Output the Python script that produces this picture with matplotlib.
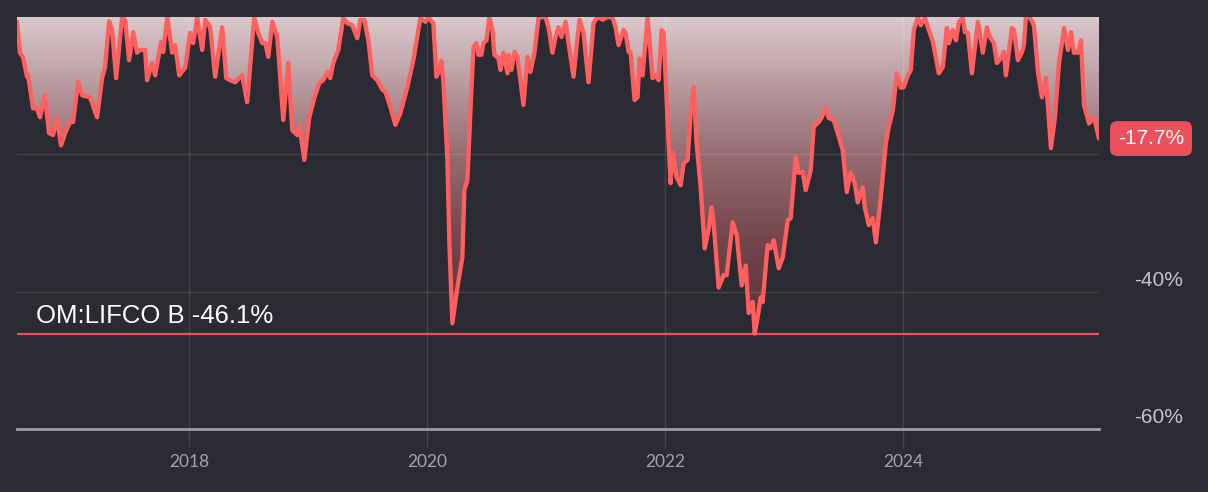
import matplotlib
matplotlib.use('Agg')
import matplotlib.pyplot as plt
import numpy as np

# drawdown of OM:LIFCO B (decimal years, percent)
years = [
    2016.553, 2016.578, 2016.603, 2016.637, 2016.646, 2016.688, 2016.721, 2016.746, 2016.788, 2016.822,
    2016.856, 2016.889, 2016.923, 2016.957, 2016.999, 2017.024, 2017.066, 2017.100, 2017.167, 2017.226,
    2017.268, 2017.293, 2017.327, 2017.352, 2017.386, 2017.436, 2017.461, 2017.495, 2017.529, 2017.562,
    2017.587, 2017.629, 2017.646, 2017.688, 2017.714, 2017.764, 2017.781, 2017.815, 2017.857, 2017.882,
    2017.916, 2017.966, 2018.008, 2018.033, 2018.067, 2018.109, 2018.134, 2018.176, 2018.218, 2018.277,
    2018.311, 2018.344, 2018.386, 2018.445, 2018.487, 2018.546, 2018.580, 2018.613, 2018.639, 2018.664,
    2018.698, 2018.740, 2018.790, 2018.832, 2018.866, 2018.908, 2018.925, 2018.967, 2019.009, 2019.051,
    2019.093, 2019.126, 2019.160, 2019.185, 2019.210, 2019.252, 2019.295, 2019.328, 2019.370, 2019.412,
    2019.437, 2019.471, 2019.505, 2019.538, 2019.580, 2019.623, 2019.648, 2019.690, 2019.732, 2019.774,
    2019.833, 2019.883, 2019.942, 2019.984, 2020.009, 2020.051, 2020.077, 2020.094, 2020.119, 2020.136,
    2020.169, 2020.186, 2020.211, 2020.253, 2020.295, 2020.312, 2020.337, 2020.363, 2020.388, 2020.413,
    2020.430, 2020.455, 2020.472, 2020.497, 2020.522, 2020.548, 2020.564, 2020.598, 2020.615, 2020.640,
    2020.674, 2020.682, 2020.707, 2020.733, 2020.758, 2020.808, 2020.842, 2020.867, 2020.901, 2020.935,
    2020.993, 2021.019, 2021.052, 2021.078, 2021.103, 2021.128, 2021.162, 2021.187, 2021.229, 2021.254,
    2021.279, 2021.313, 2021.355, 2021.397, 2021.431, 2021.473, 2021.515, 2021.557, 2021.582, 2021.607,
    2021.649, 2021.666, 2021.692, 2021.708, 2021.742, 2021.767, 2021.784, 2021.809, 2021.851, 2021.893,
    2021.918, 2021.944, 2021.969, 2021.986, 2022.020, 2022.045, 2022.062, 2022.095, 2022.129, 2022.154,
    2022.188, 2022.213, 2022.238, 2022.263, 2022.297, 2022.331, 2022.364, 2022.389, 2022.406, 2022.448,
    2022.490, 2022.516, 2022.566, 2022.600, 2022.642, 2022.676, 2022.701, 2022.734, 2022.751, 2022.776,
    2022.802, 2022.818, 2022.860, 2022.886, 2022.911, 2022.953, 2022.987, 2023.029, 2023.054, 2023.096,
    2023.121, 2023.155, 2023.180, 2023.222, 2023.247, 2023.289, 2023.315, 2023.348, 2023.373, 2023.415,
    2023.449, 2023.491, 2023.525, 2023.558, 2023.592, 2023.617, 2023.659, 2023.676, 2023.710, 2023.743,
    2023.769, 2023.811, 2023.853, 2023.878, 2023.912, 2023.945, 2023.979, 2024.004, 2024.038, 2024.063,
    2024.088, 2024.122, 2024.147, 2024.181, 2024.214, 2024.248, 2024.298, 2024.332, 2024.366, 2024.383,
    2024.416, 2024.442, 2024.467, 2024.500, 2024.517, 2024.542, 2024.576, 2024.626, 2024.668, 2024.702,
    2024.727, 2024.761, 2024.786, 2024.820, 2024.845, 2024.862, 2024.912, 2024.929, 2024.963, 2024.997,
    2025.013, 2025.030, 2025.064, 2025.097, 2025.131, 2025.165, 2025.198, 2025.240, 2025.274, 2025.308,
    2025.350, 2025.383, 2025.409, 2025.434, 2025.468, 2025.493, 2025.518, 2025.560, 2025.602, 2025.644,
]
drawdown = [
    -0.7, -5.2, -5.8, -8.7, -8.5, -13.3, -13.3, -14.6, -11.4, -16.9,
    -17.2, -14.7, -18.7, -16.9, -15.3, -15.3, -9.5, -11.4, -11.7, -14.6,
    -8.9, -7.3, -0.6, -1.9, -8.9, 0.0, -0.4, -6.3, -2.2, -5.2,
    -4.8, -4.8, -9.2, -6.7, -8.5, -3.6, -5.1, 0.0, -5.2, -4.1,
    -8.5, -7.4, -2.3, -3.8, 0.0, -4.8, -0.4, -1.5, -8.7, -1.5,
    -8.9, -9.2, -9.5, -8.5, -12.4, 0.0, -2.3, -3.8, -3.8, -5.8,
    -0.7, -2.9, -15.0, -6.7, -16.5, -17.2, -15.7, -20.8, -14.6, -11.8,
    -9.6, -9.2, -8.0, -8.9, -6.7, -4.8, -0.1, -0.9, -1.2, -3.1,
    -0.4, -0.4, -3.4, -8.5, -9.2, -10.6, -10.9, -13.1, -15.7, -14.0,
    -10.2, -6.3, -0.1, -0.7, -0.1, -0.9, -8.7, -8.0, -6.4, -9.6,
    -20.8, -33.0, -44.6, -39.4, -35.0, -25.2, -23.8, -13.6, -4.4, -3.8,
    -5.5, -5.5, -3.8, -3.4, 0.0, -1.9, -5.5, -6.0, -7.7, -5.2,
    -8.2, -5.5, -7.7, -5.1, -5.8, -12.8, -5.8, -8.0, -5.2, -0.1,
    0.0, -1.5, -5.2, -2.9, -1.5, -2.9, -0.7, -3.8, -8.7, -4.4,
    -0.4, -2.3, -9.5, -0.9, 0.0, -0.4, 0.0, -0.1, -1.5, -4.1,
    -1.9, -2.3, -5.1, -5.1, -12.1, -11.7, -6.0, -8.5, -0.1, -8.9,
    -8.5, -9.2, -1.9, -2.3, -15.5, -24.2, -19.8, -23.3, -24.5, -21.3,
    -20.8, -14.0, -10.2, -18.4, -24.8, -33.7, -31.0, -27.7, -30.0, -39.4,
    -37.6, -37.6, -29.9, -31.8, -39.1, -36.2, -43.1, -41.5, -46.1, -43.7,
    -40.8, -41.5, -33.2, -33.7, -32.5, -36.6, -35.0, -29.6, -29.3, -20.4,
    -22.7, -22.6, -25.2, -22.3, -16.0, -15.3, -14.6, -13.3, -14.7, -15.0,
    -16.9, -19.4, -25.5, -22.7, -24.2, -27.0, -24.8, -27.7, -30.3, -29.3,
    -32.8, -26.2, -18.4, -16.0, -13.6, -8.2, -10.3, -10.2, -8.5, -7.7,
    -1.9, 0.0, -1.2, -0.1, -1.9, -3.6, -8.2, -7.3, -1.6, -3.8,
    -1.9, -3.4, -0.7, -0.1, -2.2, -2.3, -8.2, -0.7, -5.2, -1.5,
    -2.9, -3.8, -6.7, -6.0, -5.1, -8.5, -1.6, -1.9, -6.3, -5.1,
    -4.1, 0.0, -0.1, -1.2, -8.0, -11.7, -8.9, -19.1, -14.6, -6.7,
    -1.6, -4.8, -2.2, -5.2, -5.2, -3.4, -12.8, -15.5, -14.6, -17.7,
]

ticker = 'OM:LIFCO B'
max_drawdown = -46.1
last_value = drawdown[-1]
year_ticks = [2018, 2020, 2022, 2024]
grid_levels = [-20, -40]
pct_labels = [-40, -60]

bg = '#2b2b33'
line_red = '#ff5f5f'
badge_red = '#ea515c'
grid_col = (1, 1, 1, 0.12)

fig = plt.figure(figsize=(12.08, 4.92), dpi=100, facecolor=bg)
ax = fig.add_axes([17 / 1208, 63 / 492, 1082 / 1208, 412 / 492])
ax.set_facecolor(bg)

# gradient under the curve (between curve and zero)
stop_v = [0, 20, 33, 46, 60]
stop_c = np.array([[218, 200, 203], [150, 108, 114], [114, 68, 75],
                   [92, 50, 57], [80, 44, 51]]) / 255
depth = np.linspace(0, 60, 400)
grad = np.zeros((400, 1, 3))
for k in range(3):
    grad[:, 0, k] = np.interp(depth, stop_v, stop_c[:, k])
img = ax.imshow(grad, extent=[years[0], years[-1], -60, 0], aspect='auto',
                origin='upper', zorder=1, interpolation='bilinear')
poly = ax.fill_between(years, drawdown, 0, facecolor='none', edgecolor='none')
img.set_clip_path(poly.get_paths()[0], transform=ax.transData)

for lvl in grid_levels:
    ax.axhline(lvl, color=grid_col, lw=1, zorder=2)
for yr in year_ticks:
    ax.axvline(yr, color=grid_col, lw=1, zorder=2)

ax.axhline(-60, color='#9d9da5', lw=2, zorder=3, clip_on=False)
ax.axhline(max_drawdown, color=badge_red, lw=1.6, zorder=3)
ax.plot(years, drawdown, color=line_red, lw=3.1, zorder=4,
        solid_joinstyle='round', solid_capstyle='round')

ax.set_xlim(years[0], years[-1])
ax.set_ylim(-60, 0)
for s in ax.spines.values():
    s.set_visible(False)

ax.set_xticks(year_ticks)
ax.set_xticklabels([str(y) for y in year_ticks], fontfamily='Lato')
ax.tick_params(axis='x', length=13, width=1, color='#46464e', pad=5,
               labelcolor='#a3a3ab', labelsize=12.5)
ax.set_yticks([])

for v in pct_labels:
    ax.annotate(f'{v}%', xy=(1, v), xycoords=('axes fraction', 'data'),
                xytext=(84, 2), textcoords='offset pixels', ha='right', va='bottom',
                color='#c4c4cc', fontsize=15, fontfamily='Liberation Sans')

ax.annotate(f'{last_value:.1f}%', xy=(1, last_value), xycoords=('axes fraction', 'data'),
            xytext=(52, 0), textcoords='offset pixels', ha='center', va='center',
            color='white', fontsize=15, fontfamily='Liberation Sans',
            bbox=dict(boxstyle='round,pad=0.38,rounding_size=0.35', fc=badge_red, ec='none'))

ax.annotate(f'{ticker} {max_drawdown:.1f}%', xy=(0, max_drawdown),
            xycoords=('axes fraction', 'data'), xytext=(19, 6), textcoords='offset pixels',
            ha='left', va='bottom', color='white', fontsize=18.5,
            fontfamily='Liberation Sans')

fig.savefig('out.png', dpi=100, facecolor=bg)
